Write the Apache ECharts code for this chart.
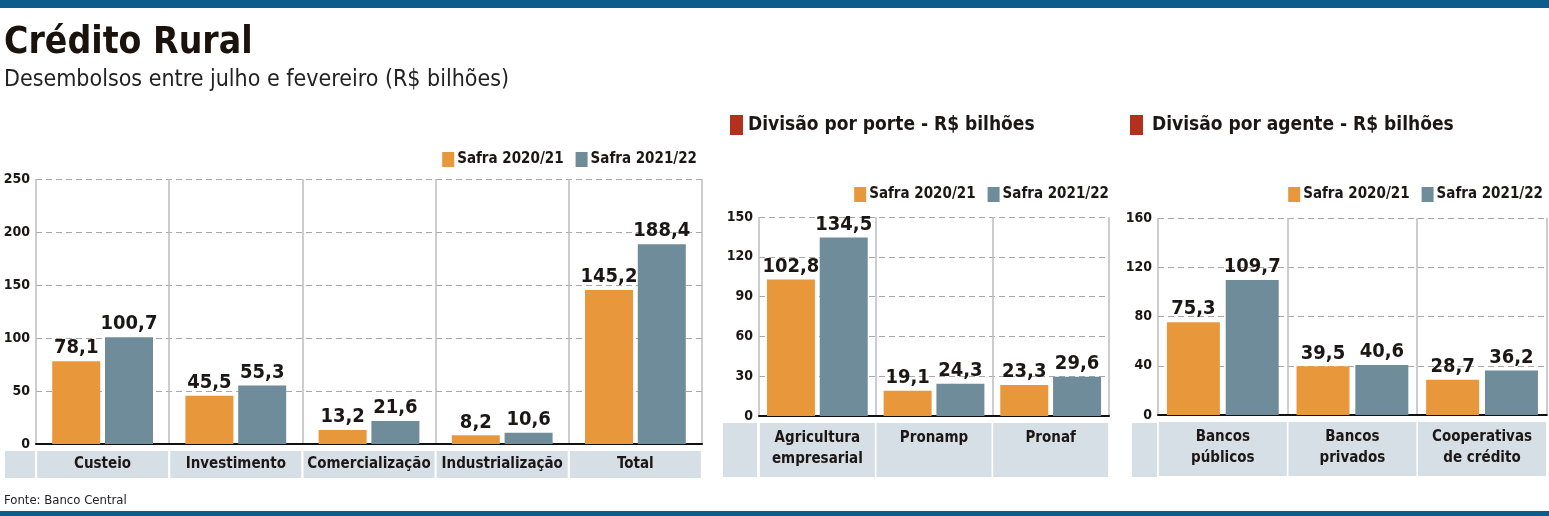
<!DOCTYPE html>
<html>
<head>
<meta charset="utf-8">
<script src="https://cdn.jsdelivr.net/npm/echarts@6/dist/echarts.min.js"></script>
<style>
  html, body { margin: 0; padding: 0; background: #fff; }
  #chart { width: 1549px; height: 516px; }
</style>
</head>
<body>
<div id="chart"></div>
<script>
// Crédito Rural - desembolsos entre julho e fevereiro (R$ bilhões)

var seriesNames = ['Safra 2020/21', 'Safra 2021/22'];

// quadro 1: por finalidade
var finalidadeCats = ['Custeio', 'Investimento', 'Comercialização', 'Industrialização', 'Total'];
var finalidade2021 = [78.1, 45.5, 13.2, 8.2, 145.2];
var finalidade2122 = [100.7, 55.3, 21.6, 10.6, 188.4];

// quadro 2: por porte
var porteCats = ['Agricultura\nempresarial', 'Pronamp', 'Pronaf'];
var porte2021 = [102.8, 19.1, 23.3];
var porte2122 = [134.5, 24.3, 29.6];

// quadro 3: por agente
var agenteCats = ['Bancos\npúblicos', 'Bancos\nprivados', 'Cooperativas\nde crédito'];
var agente2021 = [75.3, 39.5, 28.7];
var agente2122 = [109.7, 40.6, 36.2];

var FONT = '"Liberation Sans Narrow", "DejaVu Sans Condensed", "Roboto", sans-serif';
var corLaranja = '#E8983A';
var corAzul = '#6E8C9A';
var corFaixa = '#D6DFE6';
var corTexto = '#1C1714';

var chart = echarts.init(document.getElementById('chart'));

// rótulo com vírgula decimal
var virgula = function (p) {
  return String(p.value).replace('.', ',');
};

var montaGrid = function (left, right, top, bottom) {
  return { left: left, right: right, top: top, bottom: bottom, containLabel: false };
};

var montaX = function (idx, cats, catW, bandH, padTop) {
  return {
    type: 'category',
    gridIndex: idx,
    data: cats,
    axisTick: { show: false },
    axisLine: { show: true, lineStyle: { color: '#111', width: 2 } },
    splitLine: { show: true, lineStyle: { color: '#BDBDBD', width: 1.5 } },
    axisLabel: {
      margin: 7,
      interval: 0,
      color: corTexto,
      fontFamily: FONT,
      fontWeight: 'bold',
      fontSize: 15,
      lineHeight: 21,
      backgroundColor: corFaixa,
      width: catW,
      height: bandH - padTop,
      padding: [padTop, 0, 0, 0],
      align: 'center',
      verticalAlign: 'top'
    }
  };
};

var montaY = function (idx, max, interval) {
  return {
    type: 'value',
    gridIndex: idx,
    min: 0,
    max: max,
    interval: interval,
    axisLine: { show: false },
    axisTick: { show: false },
    splitLine: { show: true, lineStyle: { color: '#A8A8A8', type: [6, 4], width: 1.2 } },
    axisLabel: {
      margin: 6,
      color: corTexto,
      fontFamily: FONT,
      fontWeight: 'bold',
      fontSize: 14
    }
  };
};

var montaSerie = function (idx, name, data, cor, barW, gap) {
  return {
    name: name,
    type: 'bar',
    xAxisIndex: idx,
    yAxisIndex: idx,
    data: data,
    barWidth: barW,
    barGap: gap,
    itemStyle: { color: cor },
    label: {
      show: true,
      position: 'top',
      distance: 3,
      formatter: virgula,
      color: corTexto,
      fontFamily: FONT,
      fontWeight: 'bold',
      fontSize: 20
    }
  };
};

var montaLegenda = function (right, top) {
  return {
    data: seriesNames,
    right: right,
    top: top,
    icon: 'rect',
    itemWidth: 12,
    itemHeight: 15,
    itemGap: 12,
    padding: 0,
    selectedMode: false,
    textStyle: { color: corTexto, fontFamily: FONT, fontWeight: 'bold', fontSize: 15, padding: [0, 0, 0, -2] }
  };
};

var option = {
  animation: false,
  backgroundColor: '#fff',
  color: [corLaranja, corAzul],
  title: [
    { text: 'Crédito Rural', left: 4, top: 25, padding: 0,
      textStyle: { fontFamily: FONT, fontWeight: 'bold', fontSize: 37, color: '#1A120C' } },
    { text: 'Desembolsos entre julho e fevereiro (R$ bilhões)', left: 4, top: 69, padding: 0,
      textStyle: { fontFamily: FONT, fontWeight: 'normal', fontSize: 23, color: '#222' } },
    { text: 'Divisão por porte - R$ bilhões', left: 748, top: 116, padding: 0,
      textStyle: { fontFamily: FONT, fontWeight: 'bold', fontSize: 19, color: corTexto } },
    { text: 'Divisão por agente - R$ bilhões', left: 1152, top: 116, padding: 0,
      textStyle: { fontFamily: FONT, fontWeight: 'bold', fontSize: 19, color: corTexto } },
    { text: 'Fonte: Banco Central', left: 4, top: 494, padding: 0,
      textStyle: { fontFamily: FONT, fontWeight: 'normal', fontSize: 13, color: '#222' } }
  ],
  legend: [
    montaLegenda(852, 152),
    montaLegenda(440, 187),
    montaLegenda(6, 187)
  ],
  grid: [
    montaGrid(36, 847, 179, 72),
    montaGrid(759, 440, 217, 100),
    montaGrid(1158, 2, 218, 101)
  ],
  xAxis: [
    montaX(0, finalidadeCats, 131, 27, 3),
    montaX(1, porteCats, 115, 54, 5),
    montaX(2, agenteCats, 128, 54, 5)
  ],
  yAxis: [
    montaY(0, 250, 50),
    montaY(1, 150, 30),
    montaY(2, 160, 40)
  ],
  series: [
    montaSerie(0, seriesNames[0], finalidade2021, corLaranja, 48, '10%'),
    montaSerie(0, seriesNames[1], finalidade2122, corAzul, 48, '10%'),
    montaSerie(1, seriesNames[0], porte2021, corLaranja, 48, '10%'),
    montaSerie(1, seriesNames[1], porte2122, corAzul, 48, '10%'),
    montaSerie(2, seriesNames[0], agente2021, corLaranja, 53, '11%'),
    montaSerie(2, seriesNames[1], agente2122, corAzul, 53, '11%')
  ],
  graphic: [
    // faixas azuis de topo e base
    { type: 'rect', shape: { x: 0, y: 0, width: 1549, height: 8 }, style: { fill: '#0B5E8C' } },
    { type: 'rect', shape: { x: 0, y: 511, width: 1549, height: 5 }, style: { fill: '#0B5E8C' } },
    // marcadores vermelhos dos subtítulos
    { type: 'rect', shape: { x: 730, y: 115, width: 13, height: 20 }, style: { fill: '#B3301C' } },
    { type: 'rect', shape: { x: 1130, y: 115, width: 13, height: 20 }, style: { fill: '#B3301C' } },
    // célula vazia à esquerda das faixas de categoria
    { type: 'rect', shape: { x: 5, y: 451, width: 30, height: 27 }, style: { fill: corFaixa } },
    { type: 'rect', shape: { x: 723, y: 423, width: 34, height: 54 }, style: { fill: corFaixa } },
    { type: 'rect', shape: { x: 1132, y: 423, width: 25, height: 54 }, style: { fill: corFaixa } }
  ]
};

chart.setOption(option);
</script>
</body>
</html>
